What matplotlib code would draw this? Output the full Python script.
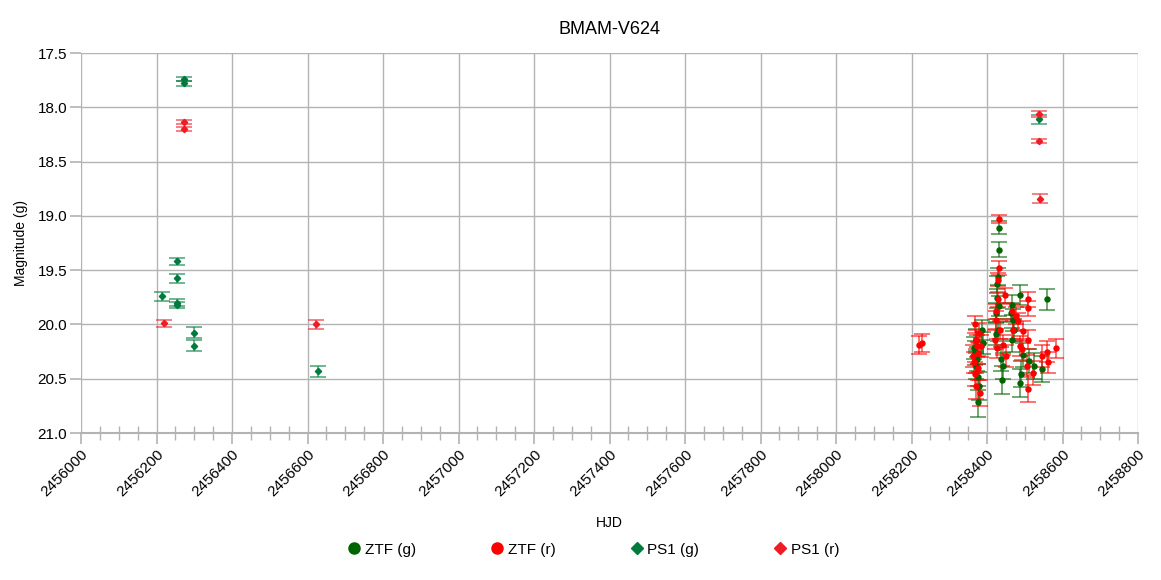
import numpy as np
import matplotlib
matplotlib.use('Agg')
import matplotlib.pyplot as plt
from matplotlib.lines import Line2D
from matplotlib.ticker import MultipleLocator, FormatStrFormatter

plt.rcParams['font.family'] = ['Liberation Sans', 'DejaVu Sans']

# ZTF g
ztf_g_hjd = [2458370.3, 2458368.5, 2458372.0, 2458375.6, 2458379.0, 2458377.4, 2458388.0, 2458389.7,
             2458366.8, 2458373.8, 2458431.0, 2458432.0, 2458430.0, 2458426.8, 2458427.6, 2458423.0,
             2458425.0, 2458432.0, 2458437.4, 2458442.7, 2458441.0, 2458428.5, 2458486.8, 2458467.4,
             2458469.0, 2458471.8, 2458467.4, 2458495.6, 2458488.5, 2458490.3, 2458511.5, 2458524.7,
             2458546.8, 2458463.8, 2458558.0]
ztf_g_mag = [20.14, 20.26, 20.38, 20.48, 20.57, 20.71, 20.05, 20.17,
             20.22, 20.32, 19.11, 19.31, 19.56, 19.63, 19.76, 19.89,
             20.09, 19.83, 20.32, 20.38, 20.51, 20.05, 19.73, 19.82,
             19.96, 20.05, 20.14, 20.28, 20.54, 20.46, 20.34, 20.38,
             20.41, 19.89, 19.77]
ztf_g_err = [0.10, 0.11, 0.12, 0.12, 0.13, 0.14, 0.09, 0.10,
             0.10, 0.11, 0.06, 0.07, 0.08, 0.08, 0.09, 0.09,
             0.10, 0.09, 0.11, 0.12, 0.13, 0.10, 0.09, 0.09,
             0.10, 0.10, 0.11, 0.11, 0.13, 0.12, 0.11, 0.12,
             0.12, 0.09, 0.10]

# ZTF r
ztf_r_hjd = [2458218.5, 2458226.5, 2458368.5, 2458372.0, 2458375.6, 2458366.0, 2458368.5, 2458370.3,
             2458381.0, 2458379.0, 2458384.4, 2458373.0, 2458363.0, 2458377.4, 2458431.0, 2458432.0,
             2458428.5, 2458423.0, 2458425.0, 2458421.5, 2458430.0, 2458448.0, 2458442.7, 2458449.7,
             2458435.6, 2458427.6, 2458465.6, 2458478.0, 2458481.5, 2458495.6, 2458508.0, 2458508.0,
             2458509.7, 2458486.8, 2458493.8, 2458507.0, 2458523.0, 2458508.0, 2458469.0, 2458546.8,
             2458560.0, 2458561.0, 2458582.0]
ztf_r_mag = [20.19, 20.17, 20.00, 20.14, 20.26, 20.35, 20.46, 20.57,
             20.63, 20.08, 20.20, 20.20, 20.29, 20.40, 19.03, 19.48,
             19.59, 19.88, 19.96, 20.14, 19.77, 19.73, 20.19, 20.29,
             20.05, 20.22, 19.88, 19.92, 19.97, 20.06, 19.77, 19.85,
             20.14, 20.20, 20.23, 20.38, 20.45, 20.59, 20.05, 20.29,
             20.25, 20.35, 20.22]
ztf_r_err = [0.08, 0.08, 0.08, 0.09, 0.10, 0.10, 0.11, 0.12,
             0.12, 0.09, 0.10, 0.10, 0.10, 0.11, 0.04, 0.06,
             0.06, 0.07, 0.08, 0.09, 0.07, 0.07, 0.09, 0.10,
             0.08, 0.09, 0.07, 0.08, 0.08, 0.09, 0.07, 0.07,
             0.09, 0.09, 0.10, 0.10, 0.11, 0.12, 0.08, 0.10,
             0.10, 0.10, 0.09]

# PS1 g
ps1_g_hjd = [2456273, 2456273, 2456255, 2456255, 2456255, 2456255, 2456214, 2456300, 2456300, 2456628, 2458539]
ps1_g_mag = [17.74, 17.78, 19.42, 19.575, 19.80, 19.82, 19.74, 20.075, 20.195, 20.43, 18.11]
ps1_g_err = [0.02, 0.02, 0.03, 0.04, 0.03, 0.03, 0.04, 0.05, 0.05, 0.05, 0.04]

# PS1 r
ps1_r_hjd = [2456273, 2456273, 2456220, 2456623, 2458539, 2458539, 2458541]
ps1_r_mag = [18.135, 18.20, 19.99, 20.00, 18.06, 18.31, 18.84]
ps1_r_err = [0.02, 0.02, 0.03, 0.04, 0.03, 0.02, 0.04]

c_ztf_g = '#006400'
c_ztf_r = '#ff0000'
c_ps1_g = '#007a3d'
c_ps1_r = '#ee1c25'
grid_c = '#b3b3b3'

fig = plt.figure(figsize=(11.61, 5.80), dpi=100)
ax = fig.add_axes([0.0698, 0.2534, 0.9104, 0.6552])

series = [
    (ztf_g_hjd, ztf_g_mag, ztf_g_err, c_ztf_g, 'o', 3.6),
    (ztf_r_hjd, ztf_r_mag, ztf_r_err, c_ztf_r, 'o', 3.6),
    (ps1_g_hjd, ps1_g_mag, ps1_g_err, c_ps1_g, 'D', 3.2),
    (ps1_r_hjd, ps1_r_mag, ps1_r_err, c_ps1_r, 'D', 3.2),
]
for x, y, e, c, m, ms in series:
    ax.errorbar(x, y, yerr=e, fmt='none', ecolor=c, elinewidth=1.2, capsize=5.5,
                capthick=1.2, alpha=0.65, zorder=3)
    ax.plot(x, y, linestyle='none', marker=m, color=c, markersize=ms, zorder=4)

ax.set_xlim(2456000, 2458800)
ax.set_ylim(21.0, 17.5)
ax.xaxis.set_major_locator(MultipleLocator(200))
ax.xaxis.set_minor_locator(MultipleLocator(50))
ax.yaxis.set_major_locator(MultipleLocator(0.5))
ax.yaxis.set_major_formatter(FormatStrFormatter('%.1f'))
ax.xaxis.set_major_formatter(FormatStrFormatter('%d'))

ax.grid(True, which='major', color=grid_c, linewidth=1)
ax.set_axisbelow(True)
for s in ['top', 'right', 'left']:
    ax.spines[s].set_visible(False)
ax.spines['bottom'].set_color(grid_c)
ax.spines['bottom'].set_linewidth(1.5)

ax.tick_params(axis='x', which='major', direction='out', length=8, color=grid_c, width=1.2,
               labelsize=11, pad=2)
ax.tick_params(axis='x', which='minor', direction='inout', length=10, color=grid_c, width=1)
ax.tick_params(axis='y', which='major', direction='out', length=8, color=grid_c, width=1.2,
               labelsize=11, pad=2)
for lab in ax.get_xticklabels():
    lab.set_rotation(45)
    lab.set_ha('right')
    lab.set_rotation_mode('anchor')

ax.set_title('BMAM-V624', fontsize=13, pad=14)
ax.set_xlabel('HJD', fontsize=10, labelpad=12)
ax.set_ylabel('Magnitude (g)', fontsize=10, labelpad=7)

handles = [
    Line2D([], [], linestyle='none', marker='o', color=c_ztf_g, markersize=8),
    Line2D([], [], linestyle='none', marker='o', color=c_ztf_r, markersize=8),
    Line2D([], [], linestyle='none', marker='D', color=c_ps1_g, markersize=6),
    Line2D([], [], linestyle='none', marker='D', color=c_ps1_r, markersize=6),
]
labels = ['ZTF (g)', 'ZTF (r)', 'PS1 (g)', 'PS1 (r)']
fig.legend(handles, labels, loc='center', bbox_to_anchor=(0.5115, 0.052), ncol=4, frameon=False,
           fontsize=11, handlelength=0.8, handletextpad=0.3, columnspacing=4.9)

fig.savefig('out.png', dpi=100)
